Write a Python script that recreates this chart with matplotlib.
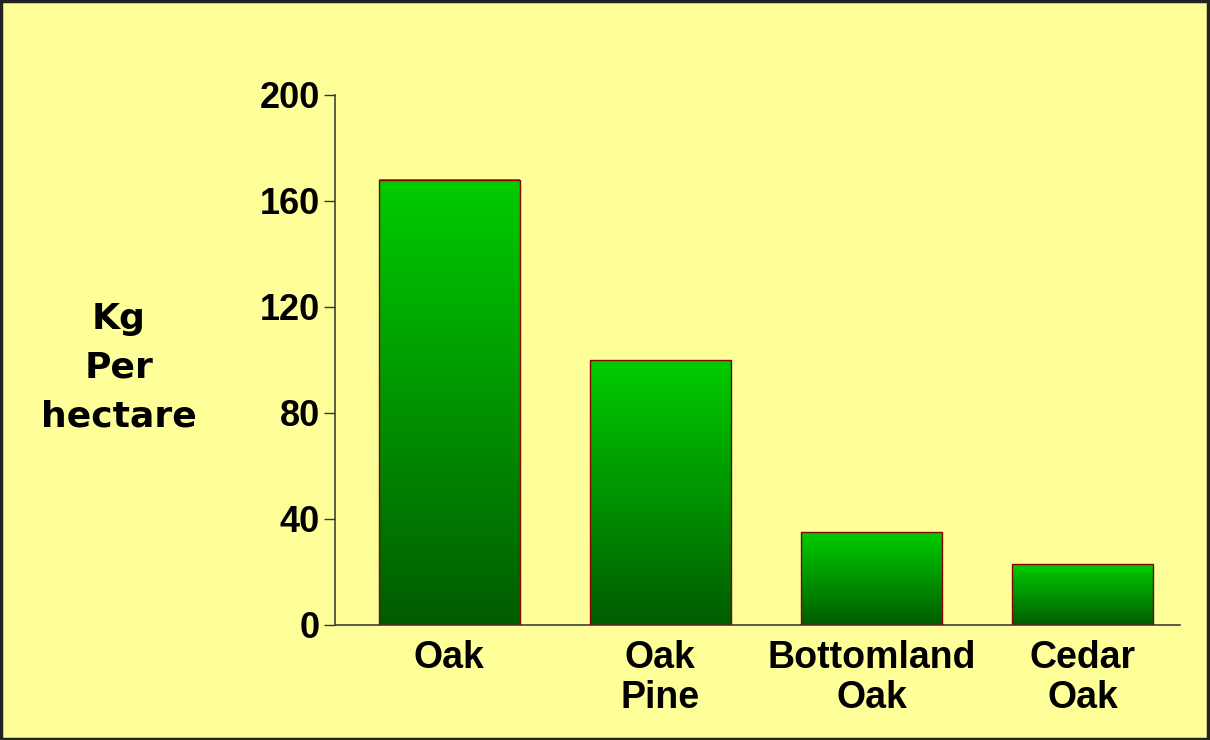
import matplotlib.pyplot as plt
import matplotlib.patches as pat
import numpy as np
from matplotlib.colors import LinearSegmentedColormap

# Acorn yield by forest type
forest_types = ["Oak", "Oak\nPine", "Bottomland\nOak", "Cedar\nOak"]
kg_per_hectare = [168, 100, 35, 23]
y_ticks = [0, 40, 80, 120, 160, 200]

bg = "#FFFF99"
green = LinearSegmentedColormap.from_list("green", ["#005C00", "#00CC00"])

fig = plt.figure(figsize=(12.1, 7.4), dpi=100, facecolor=bg)
ax = fig.add_axes([335 / 1210, 1 - 625 / 740, 845 / 1210, 530 / 740])
ax.set_facecolor(bg)

x = np.arange(len(forest_types))
bars = ax.bar(x, kg_per_hectare, width=0.667, color="none",
              edgecolor="#880000", linewidth=1.0, zorder=3)

# fill each bar with a vertical gradient, dark at the base
grad = np.linspace(0, 1, 256).reshape(-1, 1)
for b in bars:
    x0, w, h = b.get_x(), b.get_width(), b.get_height()
    ax.imshow(grad, cmap=green, origin="lower", aspect="auto",
              extent=[x0, x0 + w, 0, h], zorder=2, interpolation="bicubic")

ax.set_xlim(-0.54, 3.46)
ax.set_ylim(0, 200)
ax.set_yticks(y_ticks)
ax.set_xticks(x)
ax.set_xticklabels(forest_types, fontsize=27, fontweight="bold",
                   family="Liberation Sans", linespacing=1.15)
for lbl in ax.get_yticklabels():
    lbl.set_fontsize(26)
    lbl.set_fontweight("bold")
    lbl.set_family("Liberation Sans")

ax.tick_params(axis="y", direction="out", length=8, width=1.0,
               color="#333333", pad=3)
ax.tick_params(axis="x", length=0, pad=11)

for side in ["top", "right"]:
    ax.spines[side].set_visible(False)
for side in ["left", "bottom"]:
    ax.spines[side].set_color("#404040")
    ax.spines[side].set_linewidth(1.2)

fig.text(119 / 1210, 1 - 368 / 740, "Kg\nPer\nhectare", ha="center",
         va="center", multialignment="center", fontsize=26,
         fontweight="bold", family="DejaVu Sans", linespacing=1.55)

# dark frame round the slide
fig.patches.append(pat.Rectangle((0.001, 0.001), 0.997, 0.997,
                                 transform=fig.transFigure, fill=False,
                                 edgecolor="#222222", linewidth=2.5))

fig.savefig("out.png", dpi=100, facecolor=bg)
